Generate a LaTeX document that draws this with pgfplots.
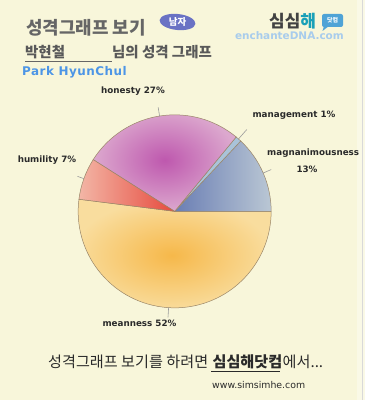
\documentclass[border=0pt]{standalone}
\usepackage{pgfplots}
\pgfplotsset{compat=1.18}
\usepackage{pgfplotstable}
\usepackage{fontspec}
\setmainfont{DejaVu Sans}
\newfontfamily\kr{Noto Sans CJK KR}
\newfontfamily\lab{DejaVu Sans}
\newfontfamily\labw{DejaVu Sans}[LetterSpace=4]
\definecolor{bgc}{HTML}{F8F6DA}
\definecolor{pieline}{HTML}{9A8668}
\definecolor{leadc}{HTML}{9A9A9A}
\definecolor{titlec}{HTML}{666666}
\definecolor{namec}{HTML}{4C95E6}
\definecolor{enchc}{HTML}{A8CCEC}
\definecolor{badgec}{HTML}{6A72C4}
\definecolor{logod}{HTML}{424242}
\definecolor{logot}{HTML}{1AA0B8}
\definecolor{bubc}{HTML}{4FA3D6}
\definecolor{meanin}{HTML}{F6B84A}
\definecolor{meanout}{HTML}{F9DD9E}
\definecolor{honin}{HTML}{BE58AE}
\definecolor{honout}{HTML}{DCA8CE}
\definecolor{humdark}{HTML}{E64A3E}
\definecolor{humlight}{HTML}{F3B6A6}
\definecolor{magdark}{HTML}{6A7EB4}
\definecolor{maglight}{HTML}{BAC7D4}
\definecolor{mgmt}{HTML}{A9C3D9}
\definecolor{textc}{HTML}{2A2A2A}
\pgfplotstableread{
label value
magnanimousness 13
management 1
honesty 27
humility 7
meanness 52
}\piedata
\pgfmathsetmacro\aA{0}
\pgfplotstablegetelem{0}{value}\of\piedata \pgfmathsetmacro\aB{\aA+3.6*\pgfplotsretval}
\pgfplotstablegetelem{1}{value}\of\piedata \pgfmathsetmacro\aC{\aB+3.6*\pgfplotsretval}
\pgfplotstablegetelem{2}{value}\of\piedata \pgfmathsetmacro\aD{\aC+3.6*\pgfplotsretval}
\pgfplotstablegetelem{3}{value}\of\piedata \pgfmathsetmacro\aE{\aD+3.6*\pgfplotsretval}
\pgfplotstablegetelem{4}{value}\of\piedata \pgfmathsetmacro\aF{\aE+3.6*\pgfplotsretval}
\pgfmathsetmacro\mA{(\aA+\aB)/2}
\pgfmathsetmacro\mB{(\aB+\aC)/2}
\pgfmathsetmacro\mC{(\aC+\aD)/2}
\pgfmathsetmacro\mD{(\aD+\aE)/2}
\pgfmathsetmacro\mE{(\aE+\aF)/2}
\newcommand\slice[3]{\path[draw=pieline, line width=0.5pt, #3] (axis cs:0,0) -- (axis cs:{cos(#1)},{sin(#1)}) arc[start angle=#1, end angle=#2, radius=96.5bp] -- cycle;}
\newcommand\leader[2]{\draw[leadc, line width=0.6pt] (axis cs:{cos(#1)},{sin(#1)}) -- (axis cs:{#2*cos(#1)},{#2*sin(#1)});}
\begin{document}
\begin{tikzpicture}[x=1bp,y=1bp]
\useasboundingbox (0,0) rectangle (365,400);
\clip (0,0) rectangle (365,400);
\fill[bgc] (0,0) rectangle (365,400);
\fill[white, opacity=0.35] (357,0) rectangle (365,400);
\draw[black!15, line width=0.6pt] (362,0) -- (362,400);
\begin{axis}[at={(181,195.5)}, anchor=origin, scale only axis,
  width=193bp, height=193bp, xmin=-1, xmax=1, ymin=-1, ymax=1,
  hide axis, clip=false]
\slice{\aE}{\aF}{inner color=meanin, outer color=meanout}
\slice{\aA}{\aB}{left color=magdark, right color=maglight}
\slice{\aB}{\aC}{fill=mgmt}
\slice{\aC}{\aD}{inner color=honin, outer color=honout}
\slice{\aD}{\aE}{left color=humlight, right color=humdark}
\leader{\mA}{1.09}
\leader{\mB}{1.13}
\leader{\mC}{1.09}
\leader{\mD}{1.07}
\leader{\mE}{1.10}
\end{axis}
% pie labels
\begin{scope}[every node/.style={inner sep=0pt, text=textc, font=\lab\bfseries\fontsize{8.8}{9}\selectfont}]
\node at (133,309) {honesty 27\%};
\node at (294,285) {management 1\%};
\node[anchor=west] at (267,247) {magnanimousness};
\node at (307,231) {13\%};
\node at (47,240) {humility 7\%};
\node at (139.5,77) {meanness 52\%};
\end{scope}
% header
\node[anchor=west, inner sep=0pt, text=titlec] at (26,372.5) {\kr\bfseries\fontsize{18}{18}\selectfont 성격그래프 보기};
\fill[badgec, rotate around={-6:(177.5,378)}] (177.5,378) ellipse (18 and 8);
\node[inner sep=0pt, text=white] at (177.5,378) {\kr\bfseries\fontsize{9.5}{9.5}\selectfont 남자};
\node[anchor=west, inner sep=0pt] at (269,378.5) {\kr\bfseries\fontsize{17}{17}\selectfont\textcolor{logod}{심심}\textcolor{logot}{해}};
\fill[bubc, rounded corners=2] (322,373) rectangle (343,386);
\fill[bubc] (324,374) -- (322.5,369) -- (329,374) -- cycle;
\node[inner sep=0pt, text=white] at (332.5,379.5) {\kr\bfseries\fontsize{6}{6}\selectfont 닷컴};
\node[anchor=east, inner sep=0pt, text=enchc] at (344,364) {\lab\bfseries\fontsize{10.5}{11}\selectfont enchanteDNA.com};
\node[anchor=west, inner sep=0pt, text=black!65] at (25,348) {\kr\bfseries\fontsize{14.5}{15}\selectfont 박현철};
\draw[black!60, line width=0.8pt] (25,339) -- (112,339);
\node[anchor=west, inner sep=0pt, text=black!65] at (112,347.5) {\kr\bfseries\fontsize{14.5}{15}\selectfont 님의 성격 그래프};
\node[anchor=west, inner sep=0pt, text=namec] at (22,328) {\labw\bfseries\fontsize{12}{13}\selectfont Park HyunChul};
% footer
\node[anchor=base west, inner sep=0pt, text=textc] (fa) at (48,33) {\kr\fontsize{15.2}{16}\selectfont 성격그래프 보기를 하려면};
\node[anchor=base west, inner sep=0pt, text=textc] (fb) at ([xshift=4bp]fa.base east) {\kr\bfseries\fontsize{15.2}{16}\selectfont 심심해닷컴};
\node[anchor=base west, inner sep=0pt, text=textc] (fc) at (fb.base east) {\kr\fontsize{15.2}{16}\selectfont 에서...};
\draw[textc, line width=0.6pt] ([yshift=-2.5bp,xshift=-1bp]fb.south west) -- ([yshift=-2.5bp,xshift=-2bp]fb.south east);
\node[anchor=west, inner sep=0pt, text=textc] at (212,15) {\lab\fontsize{9.4}{10}\selectfont www.simsimhe.com};
\end{tikzpicture}
\end{document}
